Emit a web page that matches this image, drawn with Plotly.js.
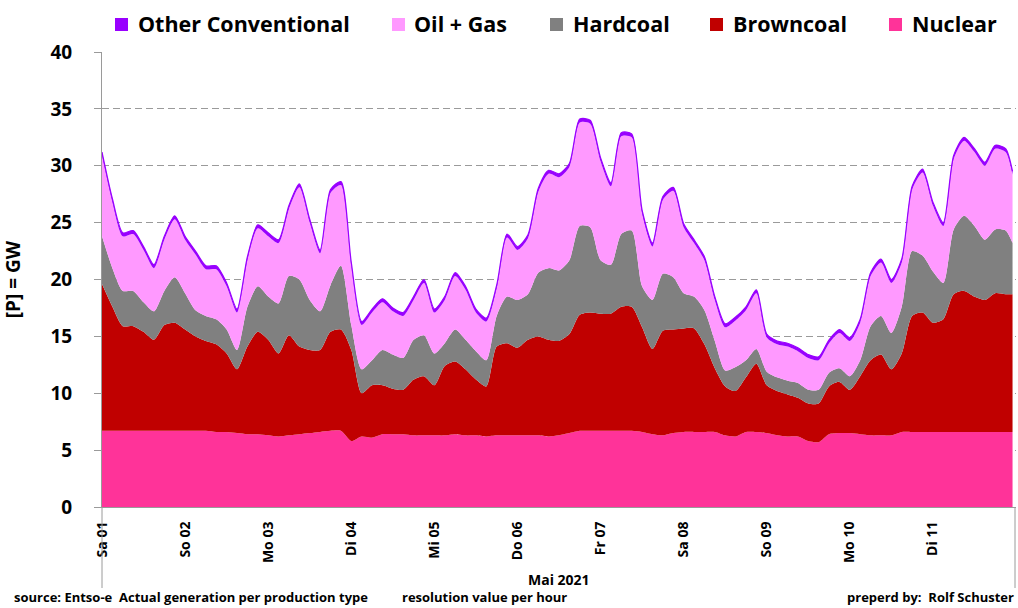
<!DOCTYPE html>
<html>
<head>
<meta charset="utf-8">
<script src="https://cdn.plot.ly/plotly-3.0.1.min.js"></script>
<style>
html,body{margin:0;padding:0;background:#ffffff;}
#chart{width:1018px;height:608px;}
</style>
</head>
<body>
<div id="chart"></div>
<script>
// ---- data: hour of May 2021 (0 = Sa 01 00:00), values in GW ----
const hours = [0,3,6,9,12,15,18,21,24,27,30,33,36,39,42,45,48,51,54,57,60,63,66,69,72,75,78,81,84,87,90,93,96,99,102,105,108,111,114,117,120,123,126,129,132,135,138,141,144,147,150,153,156,159,162,165,168,171,174,177,180,183,186,189,192,195,198,201,204,207,210,213,216,219,222,225,228,231,234,237,240,243,246,249,252,255,258,261,263];

const dayTickHours = [0,24,48,72,96,120,144,168,192,216,240];
const dayTickLabels = ['Sa 01','So 02','Mo 03','Di 04','Mi 05','Do 06','Fr 07','Sa 08','So 09','Mo 10','Di 11'];

const nuclear = [
6.7,6.7,6.7,6.7,6.7,6.7,6.7,6.7,
6.7,6.7,6.7,6.6,6.6,6.5,6.4,6.4,
6.3,6.2,6.3,6.4,6.5,6.6,6.7,6.7,
5.8,6.2,6.1,6.4,6.4,6.4,6.3,6.3,
6.3,6.3,6.4,6.3,6.3,6.2,6.3,6.3,
6.3,6.3,6.3,6.2,6.3,6.5,6.7,6.7,
6.7,6.7,6.7,6.7,6.6,6.4,6.3,6.5,
6.6,6.6,6.6,6.6,6.3,6.2,6.6,6.6,
6.5,6.3,6.2,6.2,5.8,5.7,6.4,6.5,
6.5,6.4,6.3,6.3,6.3,6.6,6.6,6.6,
6.6,6.6,6.6,6.6,6.6,6.6,6.6,6.6,
6.6];

const browncoal = [
12.9,10.9,9.2,9.2,8.7,8.0,9.3,9.5,
8.9,8.3,7.9,7.7,6.9,5.6,7.7,9.0,
8.4,7.3,8.8,7.7,7.3,7.2,8.7,8.9,
8.0,3.8,4.6,4.3,4.0,3.9,4.9,5.2,
4.4,6.1,6.4,5.8,4.9,4.4,7.8,8.1,
7.7,8.4,8.7,8.5,8.3,8.7,10.2,10.4,
10.3,10.3,10.9,10.9,9.2,7.5,9.2,9.1,
9.1,9.1,7.7,5.6,4.3,4.0,4.8,6.0,
4.2,3.9,3.7,3.4,3.3,3.4,4.2,4.5,
3.8,5.1,6.6,7.1,5.8,6.9,10.2,10.5,
9.6,9.9,12.1,12.4,11.9,11.6,12.2,12.1,
12.1];

const hardcoal = [
4.2,3.4,3.1,3.1,2.6,2.5,3.0,4.0,
3.2,2.3,2.2,2.2,2.1,1.7,3.5,4.0,
3.8,4.4,5.2,5.9,4.4,3.4,4.1,5.6,
2.2,2.1,2.2,3.1,3.0,2.8,3.5,3.6,
2.8,2.0,2.8,2.6,2.5,2.3,2.7,4.1,
4.2,4.0,5.6,6.3,6.2,6.5,7.8,7.5,
4.7,4.3,6.4,6.7,3.6,4.3,5.0,4.6,
3.1,2.8,3.0,2.4,1.4,2.1,1.5,1.3,
1.2,1.2,1.2,1.3,1.2,1.2,1.2,1.2,
1.2,1.4,3.0,3.4,3.2,4.1,5.7,5.0,
4.5,3.2,5.7,6.6,6.2,5.3,5.6,5.6,
4.5];

const oilGas = [
7.1,5.8,4.8,5.0,4.6,3.8,4.5,5.1,
4.7,4.9,4.1,4.4,3.8,3.3,4.1,5.1,
5.3,5.3,5.9,8.1,6.8,5.1,8.1,7.1,
5.2,3.9,4.2,4.2,3.8,3.7,3.5,4.6,
3.6,3.8,4.7,4.4,3.4,3.4,2.4,5.2,
4.4,4.9,7.1,8.3,8.2,8.2,9.1,9.1,
8.7,6.9,8.6,8.2,6.4,4.7,6.5,7.6,
5.8,4.7,4.4,3.6,3.8,4.1,4.4,4.9,
3.0,2.9,3.0,2.8,2.8,2.6,2.6,3.1,
3.1,3.3,4.4,4.7,4.4,3.9,5.4,7.3,
5.8,5.0,6.2,6.6,6.5,6.5,7.1,6.9,
6.0];

const otherConventional = [
0.3,0.3,0.3,0.3,0.3,0.3,0.3,0.3,
0.3,0.3,0.3,0.3,0.3,0.3,0.3,0.3,
0.3,0.3,0.3,0.3,0.3,0.3,0.3,0.3,
0.3,0.3,0.3,0.3,0.3,0.3,0.3,0.3,
0.3,0.3,0.3,0.3,0.3,0.3,0.3,0.3,
0.3,0.3,0.3,0.3,0.3,0.3,0.3,0.3,
0.3,0.3,0.3,0.3,0.3,0.3,0.3,0.3,
0.3,0.3,0.3,0.3,0.3,0.3,0.3,0.3,
0.3,0.3,0.3,0.3,0.3,0.3,0.3,0.3,
0.3,0.3,0.3,0.3,0.3,0.3,0.3,0.3,
0.3,0.3,0.3,0.3,0.3,0.3,0.3,0.3,
0.3];

const seriesNames = ['Nuclear','Browncoal','Hardcoal','Oil + Gas','Other Conventional'];
const seriesColors = ['#FF3399','#C00000','#808080','#FF99FF','#9900FF'];
const seriesValues = [nuclear, browncoal, hardcoal, oilGas, otherConventional];

// ---- traces ----
const traces = seriesValues.map((vals, i) => ({
  type: 'scatter',
  mode: 'lines',
  x: hours,
  y: vals,
  name: seriesNames[i],
  stackgroup: 'gen',
  line: {width: i === 4 ? 1.2 : 0, color: seriesColors[i], shape: 'spline', smoothing: 0.7},
  fillcolor: seriesColors[i],
  hoverinfo: 'skip'
}));

// ---- layout helpers (pixel -> paper) ----
const PL = 102, PR = 1016, PT = 52, PB = 507;
const px = v => (v - PL) / (PR - PL);
const py = v => (PB - v) / (PB - PT);

const BOLD = {family: '"Open Sans", Lato, sans-serif', color: '#000000', weight: 'bold'};
const f = size => Object.assign({}, BOLD, {size: size});

// custom legend, order as in the original (top layer first)
const legendOrder = [4, 3, 2, 1, 0];
const legendSquareX = [115, 392, 550, 710, 889];
const legendTextX = [136, 412, 571, 731, 910];

const shapes = [
  {type:'line', xref:'paper', yref:'paper', x0:px(102), x1:px(102), y0:0, y1:py(588), line:{color:'#9a9a9a', width:1}},
  {type:'line', xref:'paper', yref:'paper', x0:px(1015), x1:px(1015), y0:0, y1:py(588), line:{color:'#9a9a9a', width:1}}
];
const annotations = [
  {xref:'paper', yref:'paper', x:px(559), y:py(579), text:'Mai 2021', showarrow:false, xanchor:'center', yanchor:'middle', font:f(14)},
  {xref:'paper', yref:'paper', x:px(13), y:py(597), text:'source: Entso-e  Actual generation per production type', showarrow:false, xanchor:'left', yanchor:'middle', font:f(13), borderpad:0},
  {xref:'paper', yref:'paper', x:px(401), y:py(597), text:'resolution value per hour', showarrow:false, xanchor:'left', yanchor:'middle', font:f(13), borderpad:0},
  {xref:'paper', yref:'paper', x:px(1015), y:py(597), text:'preperd by:  Rolf Schuster', showarrow:false, xanchor:'right', yanchor:'middle', font:f(13), borderpad:0}
];
legendOrder.forEach((si, k) => {
  shapes.push({type:'rect', xref:'paper', yref:'paper', x0:px(legendSquareX[k]), x1:px(legendSquareX[k] + 13), y0:py(31), y1:py(18), fillcolor:seriesColors[si], line:{width:0}});
  annotations.push({xref:'paper', yref:'paper', x:px(legendTextX[k]), y:py(23), text:seriesNames[si], showarrow:false, xanchor:'left', yanchor:'middle', font:f(21.5)});
});

const layout = {
  width: 1018, height: 608,
  margin: {l: PL, r: 1018 - PR, t: PT, b: 608 - PB, pad: 0},
  paper_bgcolor: '#ffffff', plot_bgcolor: '#ffffff',
  showlegend: false,
  font: BOLD,
  xaxis: {
    range: [0, 264], tickmode: 'array', tickvals: dayTickHours, ticktext: dayTickLabels,
    tickangle: -90, tickfont: f(14),
    showgrid: false, zeroline: false, showline: true, linecolor: '#9a9a9a', linewidth: 1,
    ticks: '', ticklabelstandoff: 8, automargin: false, fixedrange: true
  },
  yaxis: {
    range: [0, 40], tickmode: 'linear', tick0: 0, dtick: 5,
    tickfont: f(19),
    showgrid: true, gridcolor: '#9a9a9a', gridwidth: 1, griddash: '7px,4px',
    ticks: 'outside', ticklen: 7, tickcolor: '#9a9a9a', ticklabelstandoff: 18,
    showline: true, linecolor: '#9a9a9a', linewidth: 1, zeroline: false,
    automargin: false, fixedrange: true,
    title: {text: '[P] = GW', font: f(19), standoff: 24}
  },
  shapes: shapes,
  annotations: annotations
};

Plotly.newPlot('chart', traces, layout, {staticPlot: true, displayModeBar: false});
</script>
</body>
</html>
